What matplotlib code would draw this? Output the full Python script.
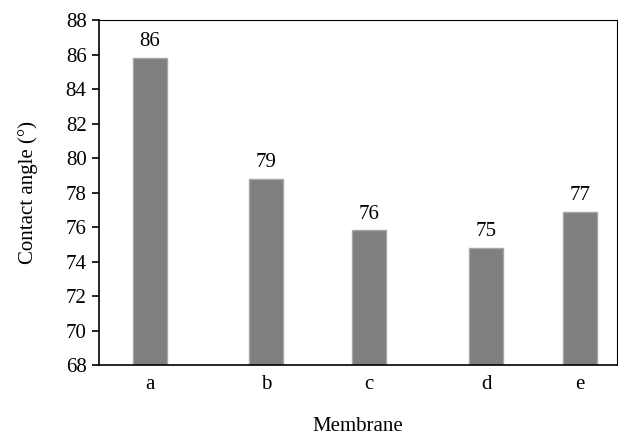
import matplotlib.pyplot as plt

membranes = ['a', 'b', 'c', 'd', 'e']
contact_angle = [85.8, 78.8, 75.8, 74.8, 76.85]
value_labels = ['86', '79', '76', '75', '77']

# category positions along the axis (the original spacing is uneven)
x_pos = [0, 1, 1.89, 2.9, 3.71]

plt.rcParams['font.family'] = ['Liberation Serif', 'DejaVu Serif']

fig = plt.figure(figsize=(6.18, 4.37), dpi=100)
ax = fig.add_axes([99 / 618, 1 - 365 / 437, 518 / 618, 345 / 437])

ax.bar(x_pos, [v - 68 for v in contact_angle], bottom=68, width=0.29,
       color='#7f7f7f', edgecolor='#a6a6a6', linewidth=1)

for x, v, lab in zip(x_pos, contact_angle, value_labels):
    ax.text(x, v + 0.4, lab, ha='center', va='bottom', fontsize=15)

ax.set_xlim(-0.44, 4.03)
ax.set_ylim(68, 88)
ax.set_yticks(range(68, 89, 2))
ax.set_xticks(x_pos)
ax.set_xticklabels(membranes)

for s in ax.spines.values():
    s.set_linewidth(1.2)
ax.spines['right'].set_linewidth(0.8)
ax.spines['top'].set_linewidth(0.8)

ax.tick_params(axis='y', direction='out', length=5, width=1.2, labelsize=15, pad=4)
ax.tick_params(axis='x', length=0, labelsize=15, pad=7)

ax.set_xlabel('Membrane', fontsize=15, labelpad=17)
ax.set_ylabel('Contact angle (°)', fontsize=15, labelpad=20)

fig.savefig('out.png', dpi=100)
